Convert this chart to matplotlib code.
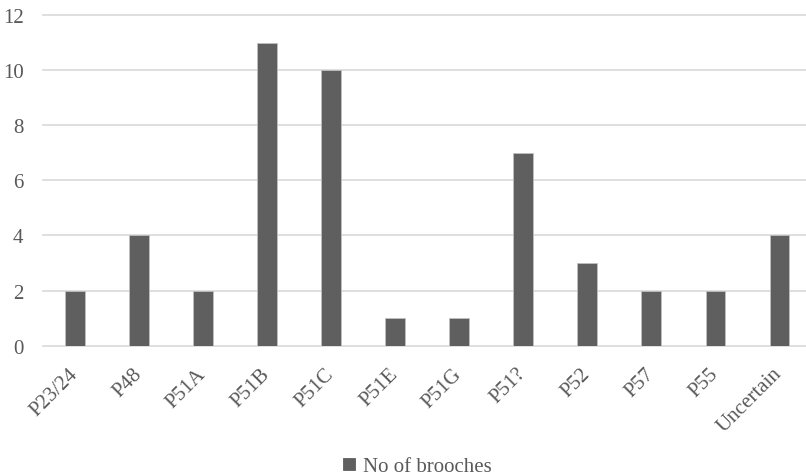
import matplotlib
matplotlib.use("Agg")
import matplotlib.pyplot as plt
from matplotlib.font_manager import FontProperties
import numpy as np

categories = ["P23/24", "P48", "P51A", "P51B", "P51C", "P51E", "P51G",
              "P51?", "P52", "P57", "P55", "Uncertain"]
brooches = [2, 4, 2, 11, 10, 1, 1, 7, 3, 2, 2, 4]
series_name = "No of brooches"
y_ticks = [0, 2, 4, 6, 8, 10, 12]

plt.rcParams["font.family"] = ["Liberation Serif", "DejaVu Serif"]

W, H = 806, 477
fig = plt.figure(figsize=(W / 100, H / 100), dpi=100)

left, right = 43 / W, 1.0
bottom, top = 1 - 346.7 / H, 1 - 16 / H
ax = fig.add_axes([left, bottom, right - left, top - bottom])

text_color = "#595959"
bar_color = "#5f5f5f"
grid_color = "#d9d9d9"
fsize = 15

x = np.arange(len(categories))
ax.bar(x, brooches, width=0.305, color=bar_color, edgecolor="#bfbfbf",
       linewidth=0.6, zorder=3, label=series_name)

ax.set_xlim(-0.5, (W - 75.3) / 64.0)
ax.set_ylim(0, 12)
ax.set_yticks(y_ticks)
for yv in y_ticks:
    ax.axhline(yv, color=grid_color, linewidth=1.2, zorder=1, clip_on=False)

for s in ax.spines.values():
    s.set_visible(False)
ax.tick_params(axis="both", length=0, colors=text_color, labelsize=fsize)
ax.tick_params(axis="y", pad=14)
ax.set_xticks(x)
ax.set_xticklabels(categories, rotation=45, ha="right", va="center",
                   rotation_mode="anchor")
ax.tick_params(axis="x", pad=18)

prop = FontProperties(family="Liberation Serif", size=fsize)
leg = fig.legend(loc="center", bbox_to_anchor=(0.518, 1 - 468 / H), frameon=False,
                 prop=prop, handlelength=0.55, handleheight=0.55,
                 handletextpad=0.4, borderpad=0, labelcolor=text_color)
for h in leg.legend_handles:
    h.set_edgecolor(bar_color)

fig.savefig("out.png", dpi=100)
